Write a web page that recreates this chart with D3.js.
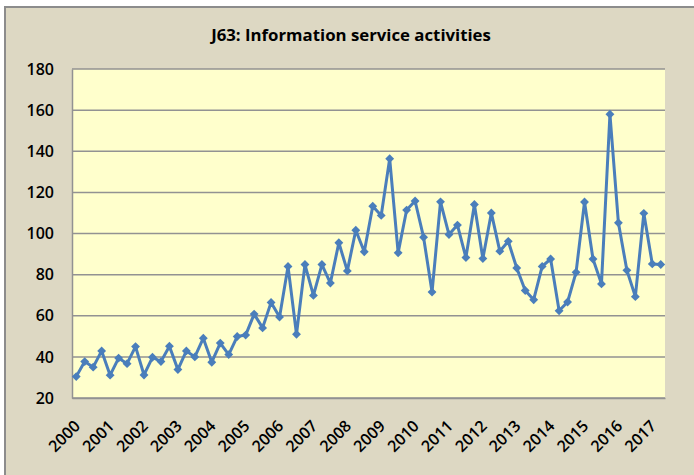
<!DOCTYPE html>
<html>
<head>
    <meta charset="utf-8">
    <title>J63: Information service activities</title>
    <script src="https://cdnjs.cloudflare.com/ajax/libs/d3/7.8.5/d3.min.js"></script>
    <style>
        html, body { margin: 0; padding: 0; background: #ffffff; }
        svg { display: block; }
        .tick text { font-family: "Open Sans", "Noto Sans", sans-serif; font-weight: 600; fill: #000; }
    </style>
</head>
<body>
    <div id="chart"></div>
    <script>
        // quarterly series, 2000 Q1 .. 2017 Q2
        const years = d3.range(2000, 2018).map(String);
        const quarters = ["Q1", "Q2", "Q3", "Q4"];
        const values = [
            30.4, 37.7, 35.0, 42.9, 31.1, 39.4, 36.7, 45.0, 31.2, 39.8,
            37.7, 45.2, 33.8, 42.9, 40.0, 49.1, 37.4, 46.7, 41.1, 49.9,
            50.6, 60.8, 54.1, 66.5, 59.4, 84.0, 51.0, 84.9, 69.9, 84.9,
            75.9, 95.5, 81.8, 101.6, 91.1, 113.3, 108.8, 136.4, 90.6, 111.4,
            115.8, 98.2, 71.5, 115.4, 99.5, 104.1, 88.3, 114.1, 87.8, 110.0,
            91.4, 96.2, 83.2, 72.3, 67.8, 84.0, 87.6, 62.4, 66.7, 81.1,
            115.3, 87.6, 75.5, 158.0, 105.2, 82.1, 69.3, 109.8, 85.2, 84.9
        ];
        const yTicks = [20, 40, 60, 80, 100, 120, 140, 160, 180];
        const title = "J63: Information service activities";

        const periods = values.map((v, i) => years[Math.floor(i / 4)] + " " + quarters[i % 4]);

        const width = 694, height = 475;
        const plot = { left: 72, right: 665, top: 69, bottom: 398 };

        const svg = d3.select("#chart")
            .append("svg")
            .attr("width", width)
            .attr("height", height);

        // chart area (only top and left edges show in the frame)
        svg.append("rect")
            .attr("x", 5).attr("y", 7)
            .attr("width", width + 10).attr("height", height + 10)
            .attr("fill", "#ddd8c3")
            .attr("stroke", "#8c8c8c")
            .attr("stroke-width", 2);

        svg.append("text")
            .attr("x", 351)
            .attr("y", 41)
            .attr("text-anchor", "middle")
            .style("font-family", "'Open Sans', 'Noto Sans', sans-serif")
            .style("font-weight", "bold")
            .style("font-size", "16.8px")
            .text(title);

        const x = d3.scaleBand()
            .domain(periods)
            .range([plot.left, plot.right])
            .padding(0);

        const y = d3.scaleLinear()
            .domain([20, 180])
            .range([plot.bottom, plot.top]);

        svg.append("rect")
            .attr("x", plot.left).attr("y", plot.top)
            .attr("width", plot.right - plot.left)
            .attr("height", plot.bottom - plot.top)
            .attr("fill", "#ffffcc");

        // gridlines
        svg.append("g")
            .selectAll("line")
            .data(yTicks)
            .join("line")
            .attr("x1", plot.left).attr("x2", plot.right)
            .attr("y1", d => y(d)).attr("y2", d => y(d))
            .attr("stroke", "#929292")
            .attr("stroke-width", 1.5);

        const yAxis = svg.append("g")
            .attr("transform", `translate(${plot.left},0)`)
            .call(d3.axisLeft(y).tickValues(yTicks).tickSize(0).tickPadding(18));
        yAxis.select(".domain").attr("stroke", "#929292").attr("stroke-width", 1.5);
        yAxis.selectAll(".tick text").style("font-size", "16px");

        const xAxis = svg.append("g")
            .attr("transform", `translate(0,${plot.bottom})`)
            .call(d3.axisBottom(x)
                .tickValues(periods.filter((p, i) => i % 4 === 0))
                .tickFormat(p => p.slice(0, 4))
                .tickSize(0));
        xAxis.select(".domain").attr("stroke", "#929292").attr("stroke-width", 1.5);
        xAxis.selectAll(".tick text")
            .style("font-size", "16px")
            .attr("text-anchor", "end")
            .attr("dy", null)
            .attr("y", 0)
            .attr("transform", "translate(5,29) rotate(-45)");

        const line = d3.line()
            .x((d, i) => x(periods[i]) + x.bandwidth() / 2)
            .y(d => y(d));

        svg.append("path")
            .datum(values)
            .attr("fill", "none")
            .attr("stroke", "#4a7ebb")
            .attr("stroke-width", 3)
            .attr("stroke-linejoin", "round")
            .attr("d", line);

        svg.append("g")
            .selectAll("path")
            .data(values)
            .join("path")
            .attr("transform", (d, i) => `translate(${x(periods[i]) + x.bandwidth() / 2},${y(d)})`)
            .attr("d", d3.symbol(d3.symbolDiamond2, 50))
            .attr("fill", "#4a7ebb");
    </script>
</body>
</html>
